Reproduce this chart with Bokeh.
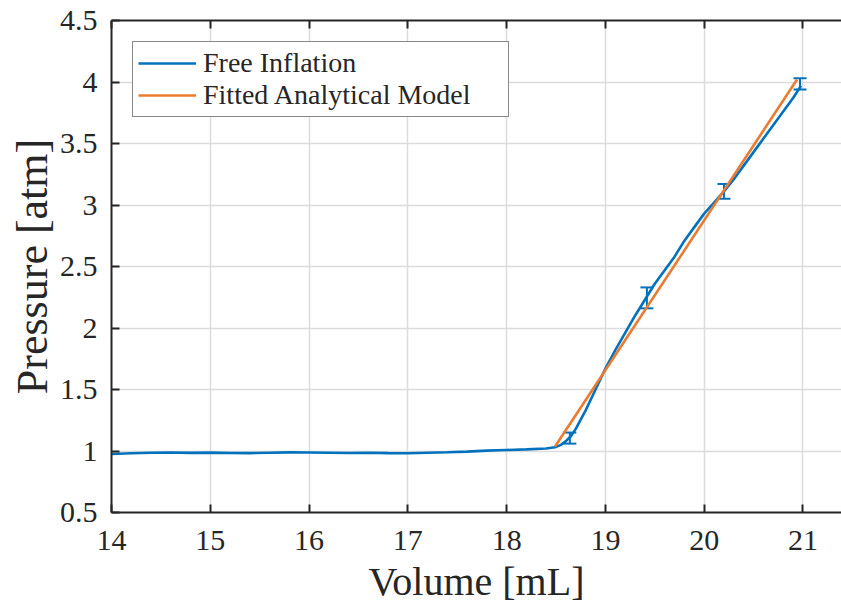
from bokeh.plotting import figure
from bokeh.models import (Range1d, LinearAxis, FixedTicker, Whisker, TeeHead,
                          ColumnDataSource, Legend, LegendItem)
from bokeh.embed import file_html
from bokeh.resources import INLINE

# ---- data ----
volume = [14.0, 14.2, 14.4, 14.6, 14.8, 15.0, 15.2, 15.4, 15.6, 15.8,
          16.0, 16.2, 16.4, 16.6, 16.8, 17.0, 17.2, 17.4, 17.6, 17.8,
          18.0, 18.2, 18.4, 18.49, 18.55, 18.6, 18.65, 18.7, 18.8, 18.9,
          19.0, 19.1, 19.2, 19.3, 19.4, 19.5, 19.6, 19.7, 19.8, 19.9,
          20.0, 20.1, 20.2, 20.3, 20.4, 20.5, 20.6, 20.7, 20.8, 20.9, 20.98]
pressure = [0.975, 0.982, 0.986, 0.988, 0.985, 0.987, 0.984, 0.983, 0.986, 0.989,
            0.988, 0.986, 0.984, 0.986, 0.983, 0.982, 0.986, 0.990, 0.995, 1.003,
            1.008, 1.013, 1.020, 1.030, 1.05, 1.08, 1.12, 1.18, 1.33, 1.50,
            1.67, 1.82, 1.96, 2.10, 2.23, 2.36, 2.47, 2.58, 2.71, 2.82,
            2.93, 3.02, 3.11, 3.21, 3.32, 3.43, 3.54, 3.65, 3.76, 3.87, 3.97]

err_x = [18.64, 19.42, 20.2, 20.97]
err_y = [1.105, 2.245, 3.11, 3.985]
err_d = [0.045, 0.085, 0.06, 0.045]

fit_x = [18.49, 20.94]
fit_y = [1.036, 4.02]

x_ticks = [14, 15, 16, 17, 18, 19, 20, 21]
y_ticks = [0.5, 1, 1.5, 2, 2.5, 3, 3.5, 4, 4.5]
y_tick_labels = ["0.5", "1", "1.5", "2", "2.5", "3", "3.5", "4", "4.5"]

BLUE = "#0072BD"
ORANGE = "#EB7B30"
DARK = "#262626"
FONT = "Liberation Serif"

p = figure(width=841, height=608, output_backend="svg", toolbar_location=None,
           x_range=Range1d(14, 21.39), y_range=Range1d(0.5, 4.5),
           min_border_left=111, min_border_top=20, min_border_bottom=96,
           min_border_right=0)
p.outline_line_color = None
p.background_fill_color = "white"

# grid
for g in (p.xgrid, p.ygrid):
    g.grid_line_color = "#DCDCDC"
    g.grid_line_width = 1.5
p.xgrid.ticker = FixedTicker(ticks=x_ticks)
p.ygrid.ticker = FixedTicker(ticks=y_ticks)

# axes
p.xaxis.ticker = FixedTicker(ticks=x_ticks)
p.yaxis.ticker = FixedTicker(ticks=y_ticks)
for ax in (p.xaxis[0], p.yaxis[0]):
    ax.axis_line_color = DARK
    ax.axis_line_width = 2
    ax.major_tick_line_color = DARK
    ax.major_tick_line_width = 2
    ax.major_tick_in = 8
    ax.major_tick_out = 0
    ax.minor_tick_line_color = None
    ax.major_label_text_font = FONT
    ax.major_label_text_font_size = "30px"
    ax.major_label_text_color = DARK
    ax.axis_label_text_font = FONT
    ax.axis_label_text_font_style = "normal"
    ax.axis_label_text_color = DARK
p.xaxis.axis_label = "Volume [mL]"
p.yaxis.axis_label = "Pressure [atm]"
p.xaxis.axis_label_text_font_size = "40px"
p.yaxis.axis_label_text_font_size = "44px"
p.xaxis.major_label_standoff = 18
p.xaxis.axis_label_standoff = 6
p.yaxis.major_label_standoff = 14
p.yaxis.axis_label_standoff = 0
p.yaxis.major_label_overrides = dict(zip(y_ticks, y_tick_labels))

top = LinearAxis(ticker=FixedTicker(ticks=x_ticks), axis_line_color=DARK,
                 axis_line_width=2, major_tick_line_color=DARK,
                 major_tick_line_width=2, major_tick_in=8, major_tick_out=0,
                 minor_tick_line_color=None,
                 major_label_overrides={t: "" for t in x_ticks},
                 major_label_text_font_size="6px",
                 major_label_standoff=0)
p.add_layout(top, "above")

# data
r_blue = p.line(volume, pressure, line_color=BLUE, line_width=2.6)
src = ColumnDataSource(dict(x=err_x, up=[y + d for y, d in zip(err_y, err_d)],
                            lo=[y - d for y, d in zip(err_y, err_d)]))
w = Whisker(source=src, base="x", upper="up", lower="lo", dimension="height",
            line_color=BLUE, line_width=2,
            upper_head=TeeHead(size=13, line_color=BLUE, line_width=2),
            lower_head=TeeHead(size=13, line_color=BLUE, line_width=2))
p.add_layout(w)
r_orange = p.line(fit_x, fit_y, line_color=ORANGE, line_width=2.6)

legend = Legend(items=[LegendItem(label="Free Inflation", renderers=[r_blue]),
                       LegendItem(label="Fitted Analytical Model", renderers=[r_orange])],
                location="top_left", margin=21, padding=5, spacing=0,
                glyph_width=58, glyph_height=28, label_standoff=7,
                label_width=300, label_height=28,
                label_text_font=FONT, label_text_font_size="28px",
                label_text_color=DARK, border_line_color="#111111",
                border_line_width=1.5, background_fill_alpha=1.0)
p.add_layout(legend)

open("out.html", "w").write(file_html(p, INLINE))
